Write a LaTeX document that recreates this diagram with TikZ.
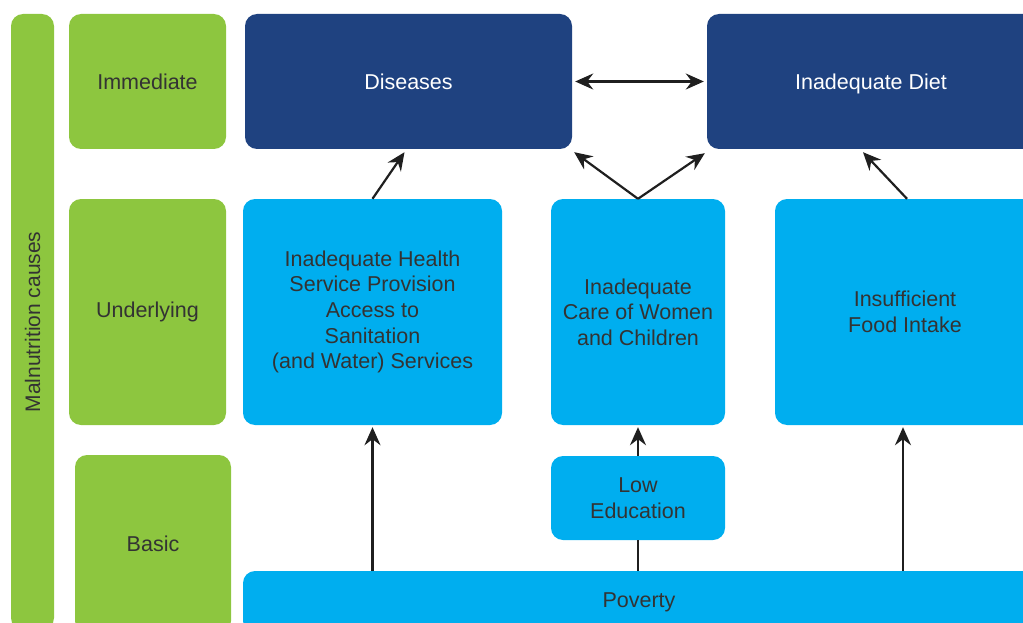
\documentclass[tikz,border=0pt]{standalone}
\usepackage{fontspec}
\setmainfont{Liberation Sans}
\usetikzlibrary{arrows.meta,calc}
\definecolor{lgreen}{HTML}{8DC63F}
\definecolor{lblue}{HTML}{00AEEF}
\definecolor{dblue}{HTML}{1F4280}
\definecolor{ink}{HTML}{333333}
\tikzset{
  base/.style={rounded corners=12pt, inner sep=0pt, align=center, font=\fontsize{21.5}{25.6}\selectfont},
  greenbox/.style={base, fill=lgreen, text=ink},
  lightbox/.style={base, fill=lblue, text=ink},
  darkbox/.style={base, fill=dblue, text=white, text height=20pt, text depth=3pt},
  arr/.style={line width=2.2pt, draw=black!88, -{Stealth[length=18pt,width=16pt,inset=6pt]}},
  dblarr/.style={line width=2.2pt, draw=black!88, {Stealth[length=18pt,width=16pt,inset=6pt]}-{Stealth[length=18pt,width=16pt,inset=6pt]}},
  plain/.style={line width=2.2pt, draw=black!88}
}
\begin{document}
\begin{tikzpicture}[x=1pt,y=-1pt]
\useasboundingbox (0,0) rectangle (1023,623);
\clip (0,0) rectangle (1023,623);
% left bar
\node[greenbox, minimum width=43, minimum height=616] (bar) at (32.5,322) {};
\node[rotate=90, text=ink, font=\fontsize{21}{25.6}\selectfont] (bartext) at (bar.center) {Malnutrition causes};
% level labels
\node[greenbox, minimum width=157, minimum height=135] (imm) at (147.5,81.5) {Immediate};
\node[greenbox, minimum width=157, minimum height=226] (und) at (147.5,312) {Underlying};
\node[greenbox, minimum width=156, minimum height=178] (bas) at (153,544) {Basic};
% immediate
\node[darkbox, minimum width=327, minimum height=135] (dis) at (408.5,81.5) {Diseases};
\node[darkbox, minimum width=328, minimum height=135] (diet) at (871,81.5) {Inadequate Diet};
% underlying
\node[lightbox, minimum width=259, minimum height=226] (health) at (372.5,312) {Inadequate Health\\Service Provision\\Access to\\Sanitation\\(and Water) Services};
\node[lightbox, minimum width=174, minimum height=226] (care) at (638,312) {Inadequate\\Care of Women\\and Children};
\node[lightbox, minimum width=260, minimum height=226] (food) at (905,312) {Insufficient\\Food Intake};
% basic
\node[lightbox, minimum width=174, minimum height=84] (edu) at (638,498) {Low\\Education};
\node[lightbox, minimum width=792, minimum height=62] (pov) at (639,602) {Poverty};
% connectors
\draw[dblarr] ($(dis.east)+(3,0)$) -- ($(diet.west)+(-3,0)$);
\draw[arr] (health.north) -- ($(dis.south)+(-4,3)$);
\draw[arr] (care.north) -- ($(dis.south east)+(2,3)$);
\draw[arr] (care.north) -- ($(diet.south west)+(-2,4)$);
\draw[arr] ($(food.north)+(2,0)$) -- ($(diet.south)+(-8,3)$);
\draw[arr] (pov.north -| health.south) -- ($(health.south)+(0,2)$);
\draw[arr] (edu.north) -- ($(care.south)+(0,2)$);
\draw[plain] (pov.north -| edu.south) -- (edu.south);
\draw[arr] ($(pov.north -| food.south)+(-2,0)$) -- ($(food.south)+(-2,2)$);
\end{tikzpicture}
\end{document}
